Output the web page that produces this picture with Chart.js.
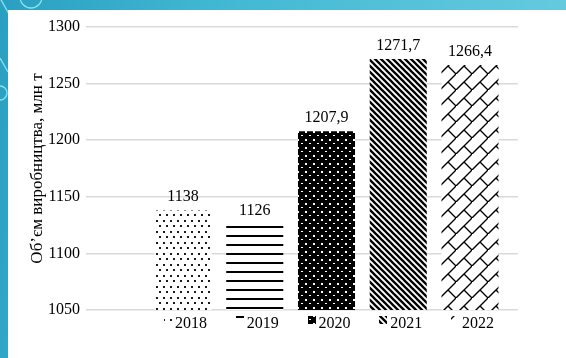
<!DOCTYPE html>
<html lang="uk">
<head>
<meta charset="utf-8">
<script src="https://cdn.jsdelivr.net/npm/chart.js@4"></script>
<style>
  html, body { margin: 0; padding: 0; }
  body { width: 566px; height: 358px; overflow: hidden; position: relative;
         background: linear-gradient(100deg, #2a9fc1 0%, #41b8d3 35%, #6bcde0 100%); }
  #deco { position: absolute; left: 0; top: 0; }
  #panel { position: absolute; left: 8px; top: 10px; width: 558px; height: 348px; background: #fff; }
  #chart { display: block; }
</style>
</head>
<body>
<svg id="deco" width="566" height="358">
  <g fill="none" stroke="#9aeef8" stroke-width="1.3" opacity="0.85">
    <circle cx="31" cy="-3" r="11"/>
    <path d="M0 -2 L9 14"/>
    <path d="M0 58 L8 72"/>
    <circle cx="0" cy="93" r="7"/>
  </g>
</svg>
<div id="panel"><canvas id="chart" width="558" height="348"></canvas></div>
<script>
// Production volume by year, million tonnes
const years = ['2018', '2019', '2020', '2021', '2022'];
const output = [1138, 1126, 1207.9, 1271.7, 1266.4];
const yTicks = [1050, 1100, 1150, 1200, 1250, 1300];
const axisTitle = 'Об’єм виробництва, млн т';

const FONT = "'Liberation Serif', 'Times New Roman', serif";

function makePattern(w, h, draw) {
  const c = document.createElement('canvas');
  c.width = w; c.height = h;
  const g = c.getContext('2d');
  draw(g, w, h);
  return g.createPattern(c, 'repeat');
}

// Monochrome fills, one per bar
const fills = [
  // sparse staggered dots
  makePattern(7, 11, (g, w, h) => {
    g.fillStyle = '#fff'; g.fillRect(0, 0, w, h);
    g.fillStyle = '#1a1a1a';
    g.fillRect(1, 1, 2, 2);
    g.fillRect(4, 6, 2, 2);
  }),
  // horizontal lines
  makePattern(8, 9, (g, w, h) => {
    g.fillStyle = '#fff'; g.fillRect(0, 0, w, h);
    g.fillStyle = '#000'; g.fillRect(0, 0, w, 2);
  }),
  // black with small white dots
  makePattern(8, 8, (g, w, h) => {
    g.fillStyle = '#000'; g.fillRect(0, 0, w, h);
    g.fillStyle = '#fff';
    g.fillRect(1, 1, 2, 2);
    g.fillRect(5, 5, 2, 1);
  }),
  // downward diagonal stripes
  makePattern(6, 6, (g, w, h) => {
    g.fillStyle = '#fff'; g.fillRect(0, 0, w, h);
    g.strokeStyle = '#000'; g.lineWidth = 2.3;
    for (let k = -1; k <= 1; k++) {
      g.beginPath(); g.moveTo(-1, k * h - 1); g.lineTo(w + 1, h + k * h + 1); g.stroke();
    }
  }),
  // diagonal brick
  makePattern(16, 16, (g, w, h) => {
    g.fillStyle = '#fff'; g.fillRect(0, 0, w, h);
    g.strokeStyle = '#000'; g.lineWidth = 1.4;
    g.beginPath();
    g.moveTo(-2, 18); g.lineTo(18, -2);
    g.moveTo(8, 8); g.lineTo(18, 18);
    g.moveTo(-2, -2); g.lineTo(0, 0);
    g.stroke();
  })
];

const fmt = v => String(v).replace('.', ',');

const valueLabels = {
  id: 'valueLabels',
  afterDatasetsDraw(chart) {
    const ctx = chart.ctx;
    const meta = chart.getDatasetMeta(0);
    ctx.save();
    ctx.font = '16px ' + FONT;
    ctx.fillStyle = '#000';
    ctx.textAlign = 'center';
    ctx.textBaseline = 'alphabetic';
    meta.data.forEach((bar, i) => {
      ctx.fillText(fmt(output[i]), bar.x, bar.y - 9);
    });
    ctx.restore();
  }
};

// Small fill keys in front of each year label
const yearKeys = {
  id: 'yearKeys',
  afterDraw(chart) {
    const ctx = chart.ctx;
    const xs = chart.scales.x;
    ctx.save();
    ctx.font = '16px ' + FONT;
    years.forEach((label, i) => {
      const tw = ctx.measureText(label).width;
      const cx = xs.getPixelForValue(i) + 8;
      const kx = Math.round(cx - tw / 2 - 11);
      const ky = Math.round(xs.top + 6);
      ctx.fillStyle = fills[i];
      ctx.fillRect(kx, ky, 8, 8);
    });
    ctx.restore();
  }
};

new Chart(document.getElementById('chart'), {
  type: 'bar',
  data: {
    datasets: [{
      data: output.map((v, i) => ({ x: i, y: v })),
      backgroundColor: fills,
      borderWidth: 0,
      barPercentage: 0.795,
      categoryPercentage: 1
    }]
  },
  options: {
    responsive: false,
    animation: false,
    layout: { padding: { top: 17, right: 48, left: 0, bottom: 0 } },
    plugins: { legend: { display: false }, tooltip: { enabled: false } },
    scales: {
      x: {
        type: 'linear',
        offset: false,
        min: -1.352,
        max: 4.669,
        grid: { display: false },
        border: { display: false },
        afterBuildTicks: s => { s.ticks = years.map((_, i) => ({ value: i })); },
        afterFit: s => { s.height = 48; },
        ticks: {
          autoSkip: false,
          maxRotation: 0,
          padding: -4,
          labelOffset: 8,
          color: '#000',
          font: { family: FONT, size: 16 },
          callback: v => years[v] ?? ''
        }
      },
      y: {
        min: 1050,
        max: 1300,
        afterBuildTicks: s => { s.ticks = yTicks.map(v => ({ value: v })); },
        afterFit: s => { s.width = 78; },
        grid: { color: '#d9d9d9', lineWidth: 1.5, drawTicks: false },
        border: { display: false },
        ticks: {
          padding: 6,
          color: '#000',
          font: { family: FONT, size: 16 },
          callback: v => String(v)
        },
        title: {
          display: true,
          text: axisTitle,
          color: '#000',
          font: { family: FONT, size: 17 },
          padding: { top: 19, bottom: 0 }
        }
      }
    }
  },
  plugins: [valueLabels, yearKeys]
});
</script>
</body>
</html>
